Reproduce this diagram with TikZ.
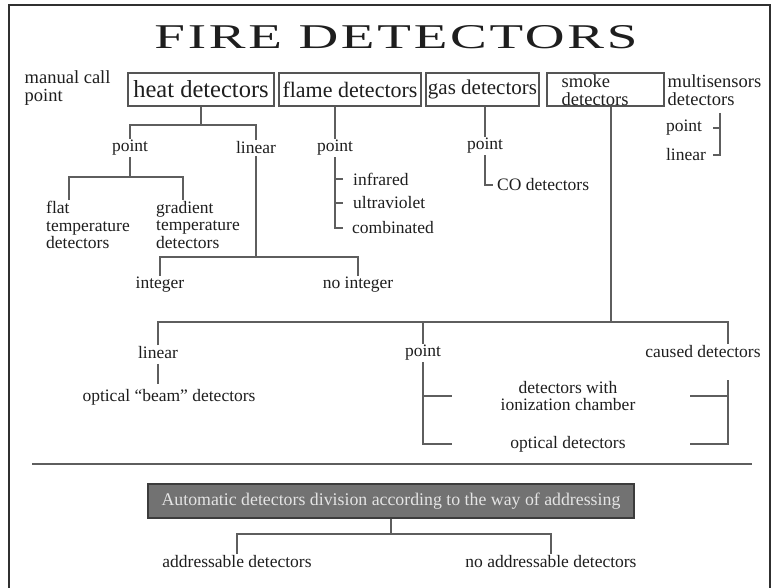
\documentclass[tikz,border=0pt]{standalone}
\usepackage{fontspec}
\setmainfont{Liberation Serif}
\newfontfamily\titlefont[LetterSpace=5]{Liberation Serif}
\usepackage{graphicx}
\definecolor{linecol}{HTML}{5E5E5E}
\definecolor{txtcol}{HTML}{1E1E1E}
\definecolor{boxcol}{HTML}{555555}
\definecolor{autofill}{HTML}{727272}
\definecolor{autodraw}{HTML}{3C3C3C}
\definecolor{autotxt}{HTML}{E4E4E4}
\definecolor{framecol}{HTML}{303030}
\begin{document}
\begin{tikzpicture}[x=1pt,y=-1pt,
  ln/.style={draw=linecol, line width=1.6pt},
  lbl/.style={font=\fontsize{17.5}{17.5}\selectfont, inner sep=1.5pt, text=txtcol},
  lblb/.style={font=\fontsize{18.5}{18}\selectfont, inner sep=1pt, text=txtcol},
  bx/.style={draw=boxcol, line width=1.5pt, minimum height=33pt, inner sep=0pt, text=txtcol},
  autobox/.style={fill=autofill, draw=autodraw, line width=1.5pt, text=autotxt,
    minimum width=486pt, minimum height=34pt, inner sep=0pt, font=\fontsize{17.8}{19}\selectfont},
  framestyle/.style={draw=framecol, line width=2.2pt},
  sepstyle/.style={draw=linecol, line width=2pt}]
\useasboundingbox (0,0) rectangle (776,588);

% frame
\draw[framestyle] (9,588) -- (9,5) -- (770,5) -- (770,588);

% title
\node[inner sep=0pt, text=txtcol] (title) at (396,37) {\resizebox{483pt}{23pt}{\titlefont FIRE DETECTORS}};

% top row
\node[lblb, align=left, anchor=west] (manual) at (23.5,88.5) {manual call\\point};
\node[bx, minimum width=146pt, font=\fontsize{24.5}{26}\selectfont] (heat) at (201,89.5) {heat detectors};
\node[bx, minimum width=142pt, font=\fontsize{22}{24}\selectfont] (flame) at (350,89.5) {flame detectors};
\node[bx, minimum width=113pt, font=\fontsize{21}{23}\selectfont] (gas) at (482.5,89.5) {gas detectors};
\node[bx, minimum width=117pt] (smoke) at (605.5,89.5) {};
\node[lblb, align=left, anchor=west] (smoketxt) at (560.5,90.5) {smoke\\detectors};
\node[lblb, align=left, anchor=west] (multi) at (666.5,90) {multisensors\\detectors};

% heat subtree
\node[lbl] (hpoint) at (130,148) {point};
\node[lbl] (hlin) at (256,148) {linear};
\node[lbl, align=left, anchor=west] (flat) at (44.5,225) {flat\\temperature\\detectors};
\node[lbl, align=left, anchor=west] (grad) at (154.5,225) {gradient\\temperature\\detectors};
\node[lbl] (int) at (160,285) {integer};
\node[lbl] (noint) at (358,285) {no integer};

% flame subtree
\node[lbl] (fpoint) at (335,148) {point};
\node[lbl, anchor=west] (infr) at (351.5,179) {infrared};
\node[lbl, anchor=west] (uv) at (351.5,203) {ultraviolet};
\node[lbl, anchor=west] (comb) at (350.5,228) {combinated};

% gas subtree
\node[lbl] (gpoint) at (485,146) {point};
\node[lbl, anchor=west] (co) at (495.5,185) {CO detectors};

% multisensors
\node[lbl] (mpoint) at (684,128) {point};
\node[lbl] (mlin) at (686,155) {linear};

% smoke subtree
\node[lbl] (slin) at (158,353) {linear};
\node[lbl] (beam) at (169,397) {optical “beam” detectors};
\node[lbl] (spoint) at (423,353) {point};
\node[lbl, align=center] (ion) at (568,396) {detectors with\\ionization chamber};
\node[lbl] (opt) at (568,444) {optical detectors};
\node[lbl] (caused) at (703,352) {caused detectors};

% bottom part
\node[autobox] (auto) at (391,501) {Automatic detectors division according to the way of addressing};
\node[lbl] (addr) at (237,562) {addressable detectors};
\node[lbl] (noaddr) at (551,562) {no addressable detectors};

% ---- connectors ----
\coordinate (hj) at (201,125);
\draw[ln] (heat.south) -- (hj);
\draw[ln] (hpoint.north) |- (hj) -| (hlin.north);

\coordinate (pj) at (130,177);
\draw[ln] (hpoint.south) -- (pj);
\draw[ln] (flat.north -| 69,0) |- (pj) -| (grad.north -| 183,0);

\coordinate (lj) at (256,257);
\draw[ln] (hlin.south) -- (lj);
\draw[ln] (int.north) |- (lj) -| (noint.north);

\draw[ln] (flame.south -| fpoint.north) -- (fpoint.north);
\draw[ln] (fpoint.south) |- ([xshift=-8pt]comb.west);
\draw[ln] (fpoint.south |- infr.west) -- ([xshift=-9pt]infr.west);
\draw[ln] (fpoint.south |- uv.west) -- ([xshift=-9pt]uv.west);

\draw[ln] (gas.south -| gpoint.north) -- (gpoint.north);
\draw[ln] (gpoint.south) |- ([xshift=-2.5pt]co.west);

\coordinate (mb) at (720,113);
\draw[ln] (mb) |- (mlin.east -| 713,0);
\draw[ln] (mb |- mpoint.east) -- (mpoint.east -| 713,0);

\coordinate (sj) at (611,322);
\draw[ln] (smoke.south -| sj) -- (sj);
\draw[ln] (slin.north) |- (sj) -| (caused.north -| 728,0);
\draw[ln] (spoint.north) -- (spoint.north |- sj);
\draw[ln, shorten <=3pt, shorten >=3pt] (slin.south) -- (slin.south |- beam.north);
\draw[ln] (spoint.south) |- (opt.west -| 452,0);
\draw[ln] (spoint.south |- ion) -- (ion -| 452,0);
\coordinate (cb) at (728,380);
\draw[ln] (cb) |- (opt.east -| 690,0);
\draw[ln] (cb |- ion) -- (ion -| 690,0);

\draw[sepstyle] (32,464) -- (752,464);

\coordinate (aj) at (391,534);
\draw[ln] (auto.south) -- (aj);
\draw[ln] (addr.north) |- (aj) -| (noaddr.north);
\end{tikzpicture}
\end{document}
